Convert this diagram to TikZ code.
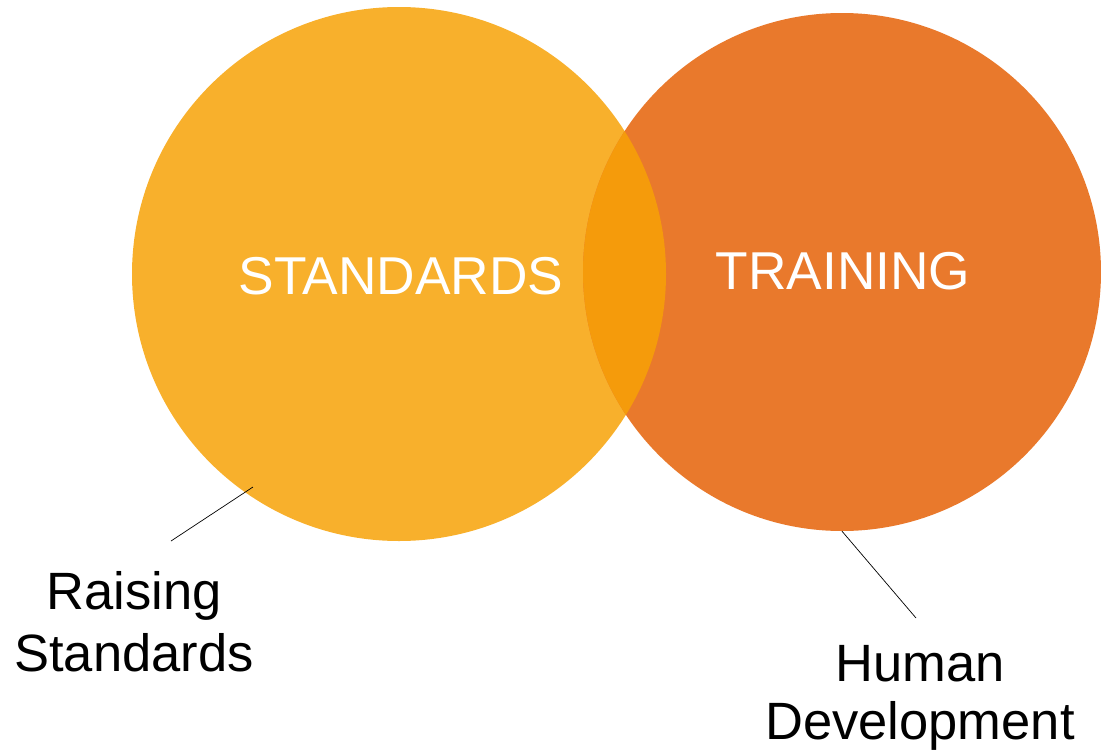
\documentclass[tikz,border=0pt]{standalone}
\usepackage{fontspec}
\setmainfont{Liberation Sans}
\usetikzlibrary{positioning}
\definecolor{stdyellow}{HTML}{F8B02C}
\definecolor{trnorange}{HTML}{E9792C}
\definecolor{mixorange}{HTML}{F59B0B}

\begin{document}
\begin{tikzpicture}[x=1pt, y=-1pt,
  main/.style = {circle, inner sep=0pt, minimum size=#1},
  big/.style = {text=white, inner sep=0pt, font=\fontsize{53.3}{58}\selectfont},
  lbl/.style = {align=center, inner sep=0pt, anchor=north}]
\useasboundingbox (0,0) rectangle (1101,755);

% the two circles and their overlap
\node[main=534, fill=stdyellow] (1) at (399,274) {};
\node[main=518, fill=trnorange] (2) at (842,272) {};
\begin{scope}
\clip (1.center) circle[radius=267pt];
\fill[mixorange] (2.center) circle[radius=259pt];
\end{scope}

\node[big] (3) at (401,276) {STANDARDS};
\node[big] (4) at (843,271) {TRAINING};

% labels
\node[lbl, font=\fontsize{52.5}{62}\selectfont] (5) at (134,571) {Raising\\Standards};
\node[lbl, font=\fontsize{52.5}{58}\selectfont] (6) at (920,645) {Human\\Development};

\coordinate (7) at (253,487);
\coordinate (8) at (171,541);
\coordinate (9) at (916,618);
\draw[line width=0.7pt] (7) -- (8);
\draw[line width=0.7pt] (2.south) -- (9);
\end{tikzpicture}
\end{document}
